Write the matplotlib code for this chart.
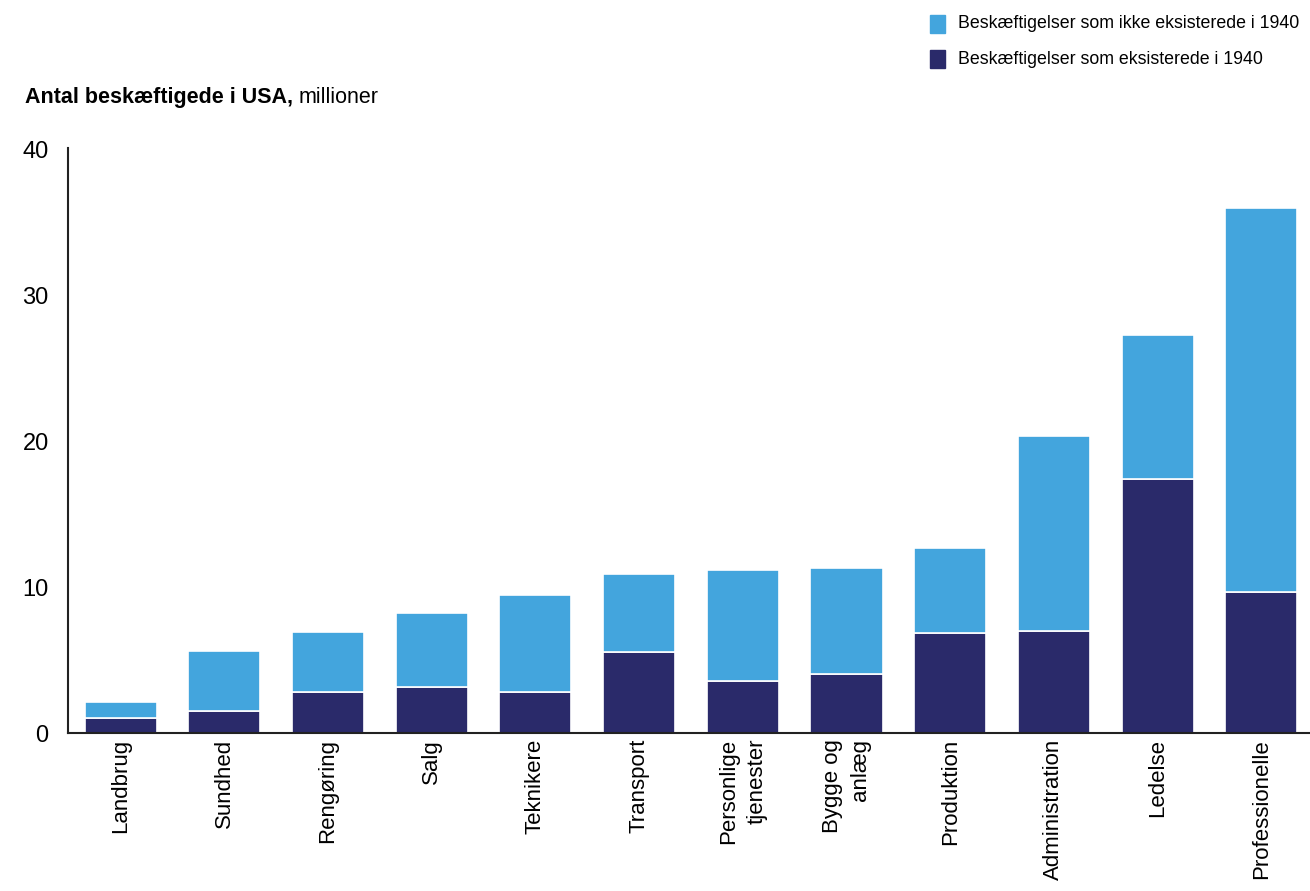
import numpy as np
import matplotlib.pyplot as plt
from matplotlib.patches import Rectangle

plt.rcParams['font.family'] = ['Liberation Sans', 'DejaVu Sans']

# data (millions)
categories = ["Landbrug", "Sundhed", "Rengøring", "Salg", "Teknikere", "Transport",
              "Personlige\ntjenester", "Bygge og\nanlæg", "Produktion", "Administration",
              "Ledelse", "Professionelle"]
existed_1940 = [1.05, 1.5, 2.8, 3.2, 2.8, 5.6, 3.55, 4.05, 6.9, 7.0, 17.4, 9.7]
totals = [2.15, 5.65, 6.95, 8.25, 9.45, 10.9, 11.2, 11.3, 12.7, 20.35, 27.3, 36.0]
new_since = [t - e for t, e in zip(totals, existed_1940)]

DARK = "#2a2a6a"
LIGHT = "#43a5dd"

fig = plt.figure(figsize=(13.1, 8.91), dpi=100)
ax = fig.add_axes([0.052, 0.177, 0.948, 0.657])

x = np.arange(len(categories))
ax.bar(x, existed_1940, width=0.695, color=DARK, edgecolor="white", linewidth=1.2)
ax.bar(x, new_since, bottom=existed_1940, width=0.695, color=LIGHT, edgecolor="white", linewidth=1.2)

ax.set_xlim(-0.506, 11.47)
ax.set_ylim(0, 40.1)
ax.set_yticks([0, 10, 20, 30, 40])
ax.tick_params(axis="y", length=0, labelsize=17, pad=14)
ax.tick_params(axis="x", length=0, pad=4)
ax.set_xticks(x)
ax.set_xticklabels(categories, rotation=90, fontsize=16, va="top", ha="center",
                   multialignment="right", linespacing=1.45)

for s in ["top", "right"]:
    ax.spines[s].set_visible(False)
for s in ["left", "bottom"]:
    ax.spines[s].set_linewidth(1.5)
    ax.spines[s].set_color("#222222")

# title (bold part + regular part on one baseline)
ty = 1 - 103 / 891
t = fig.text(25 / 1310, ty, "Antal beskæftigede i USA,", fontsize=15.5,
             fontweight="bold", va="baseline", ha="left")
fig.canvas.draw()
bb = t.get_window_extent()
fig.text(bb.x1 / 1310 + 0.004, ty, "millioner", fontsize=15.5, va="baseline", ha="left")

# legend
legend_items = [("Beskæftigelser som ikke eksisterede i 1940", LIGHT, 24),
                ("Beskæftigelser som eksisterede i 1940", DARK, 59)]
for label, color, yc in legend_items:
    fig.patches.append(Rectangle((930 / 1310, 1 - (yc + 8.5) / 891), 15 / 1310, 17 / 891,
                                 transform=fig.transFigure, color=color))
    fig.text(958 / 1310, 1 - yc / 891, label, fontsize=12.8, va="center", ha="left")

fig.savefig("out.png", dpi=100)
